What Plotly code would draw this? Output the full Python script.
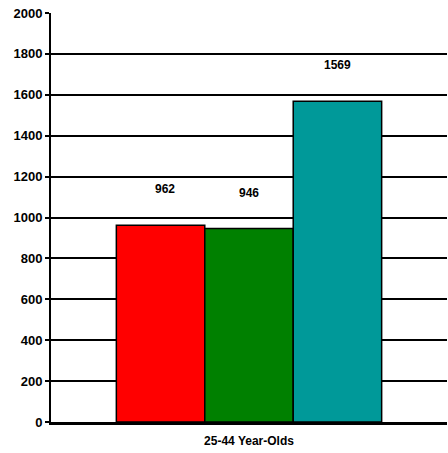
import plotly.graph_objects as go

category = ["25-44 Year-Olds"]
series_names = ["A", "B", "C"]
values = [962, 946, 1569]
colors = ["#FF0000", "#008000", "#009999"]
y_ticks = [0, 200, 400, 600, 800, 1000, 1200, 1400, 1600, 1800, 2000]

fig = go.Figure()
for name, v, c in zip(series_names, values, colors):
    fig.add_trace(go.Bar(x=category, y=[v], name=name, marker=dict(color=c, line=dict(color="black", width=1.5))))

offsets = [-84, 0, 88]
for v, off in zip(values, offsets):
    fig.add_annotation(x=category[0], y=v, text="<b>%d</b>" % v, showarrow=False,
                       xshift=off, yshift=36, font=dict(family="Liberation Sans, Arial", size=12, color="black"))

fig.update_layout(
    width=448, height=453,
    margin=dict(l=51, r=1, t=13, b=31),
    plot_bgcolor="white", paper_bgcolor="white",
    barmode="group", bargap=0.33, bargroupgap=0,
    showlegend=False,
    font=dict(family="Liberation Sans, Arial", size=13, color="black"),
)
fig.update_yaxes(range=[0, 2000], tickvals=y_ticks, ticktext=["<b>%d</b>" % t for t in y_ticks],
                 showgrid=True, gridcolor="black", gridwidth=1.5,
                 showline=True, linecolor="black", linewidth=2,
                 ticks="outside", ticklen=4, tickcolor="black", tickwidth=2, zeroline=False)
fig.update_xaxes(tickvals=category, ticktext=["<b>%s</b>" % category[0]],
                 tickfont=dict(size=12), ticklabelstandoff=6,
                 showline=True, linecolor="black", linewidth=2.5, ticks="")
fig.write_html("out.html")
